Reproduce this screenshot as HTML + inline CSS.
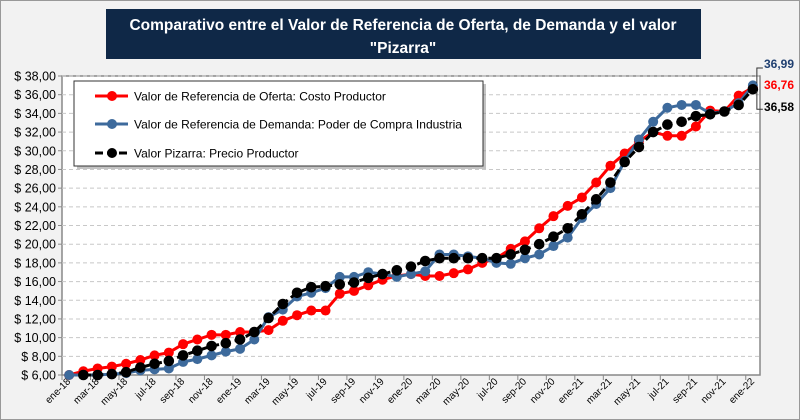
<!DOCTYPE html>
<html><head><meta charset="utf-8"><style>
body{margin:0;background:#fff;font-family:"Liberation Sans",sans-serif}
#wrap{position:relative;width:798px;height:418px;border:1px solid #999;background:#f2f2f2;overflow:hidden}
svg{position:absolute;left:0;top:0}
</style></head><body>
<div id="wrap">
<svg id="chart" width="800" height="420"></svg>
</div>
<script>
const categories=["ene-18","feb-18","mar-18","abr-18","may-18","jun-18","jul-18","ago-18","sep-18","oct-18","nov-18","dic-18","ene-19","feb-19","mar-19","abr-19","may-19","jun-19","jul-19","ago-19","sep-19","oct-19","nov-19","dic-19","ene-20","feb-20","mar-20","abr-20","may-20","jun-20","jul-20","ago-20","sep-20","oct-20","nov-20","dic-20","ene-21","feb-21","mar-21","abr-21","may-21","jun-21","jul-21","ago-21","sep-21","oct-21","nov-21","dic-21","ene-22"];
const oferta=[6.0,6.4,6.7,6.9,7.2,7.6,8.1,8.4,9.3,9.8,10.3,10.3,10.6,10.6,10.8,11.8,12.4,12.9,12.9,14.7,15.0,15.6,16.2,16.6,16.8,16.6,16.6,16.9,17.3,18.0,18.5,19.5,20.3,21.7,23.0,24.1,25.0,26.6,28.4,29.7,31.0,32.0,31.6,31.6,32.6,34.3,34.2,35.9,36.76];
const demanda=[6.0,6.0,6.0,6.1,6.2,6.5,6.6,6.7,7.4,7.7,8.1,8.5,8.8,9.8,12.2,13.0,14.4,14.8,15.3,16.5,16.5,17.0,16.8,16.5,16.8,17.1,18.9,18.9,18.7,18.5,18.0,17.9,18.5,18.9,19.8,20.7,22.8,24.3,26.0,28.9,31.2,33.1,34.6,34.9,34.9,34.0,34.2,35.1,36.99];
const pizarra=[null,6.0,6.0,6.1,6.3,6.8,7.2,7.5,8.1,8.6,9.1,9.4,9.8,10.6,12.1,13.6,14.8,15.4,15.5,15.7,15.9,16.4,16.8,17.2,17.6,18.2,18.5,18.5,18.5,18.5,18.5,18.9,19.4,20.0,20.8,21.7,23.2,24.8,26.6,28.8,30.4,32.0,32.8,33.1,33.7,33.9,34.2,34.9,36.58];
const yTicks=[6,8,10,12,14,16,18,20,22,24,26,28,30,32,34,36,38];
const endLabels=["36,99","36,76","36,58"];

const NS="http://www.w3.org/2000/svg";
const svg=document.getElementById('chart');
const PL=61,PR=759,PT=75,PB=374;
const xs=i=>PL+(i+0.5)*(PR-PL)/categories.length;
const ys=v=>PB-(v-6)/(38-6)*(PB-PT);
function mk(t,a,parent){const e=document.createElementNS(NS,t);for(const k in a)e.setAttribute(k,a[k]);(parent||svg).appendChild(e);return e;}

let e;
e=mk('rect',{x:PL,y:PT,width:PR-PL,height:PB-PT,fill:'#fff',stroke:'#888','stroke-width':1.5});


yTicks.forEach(t=>{
  const y=ys(t);
  if(t>6){e=mk('line',{x1:PL,x2:PR,y1:y,y2:y,stroke:'#c8c8c8','stroke-dasharray':'4,3'});
  
  }
  e=mk('line',{x1:PL-4,x2:PL,y1:y,y2:y,stroke:'#888'});
  e=mk('text',{x:PL-6,y:y+4.5,'text-anchor':'end','font-size':12.5,fill:'#000'});
  e.textContent='$ '+t.toFixed(2).replace('.',',');
  
  
});
categories.forEach((c,i)=>{
  const x=xs(i);
  if(i%2==0){
    mk('line',{x1:PL+i*(PR-PL)/categories.length,x2:PL+i*(PR-PL)/categories.length,y1:PB,y2:PB+5,stroke:'#888'});
    e=mk('text',{x:x+2,y:PB+7,'text-anchor':'end','font-size':10,fill:'#000',transform:`rotate(-45 ${x+2} ${PB+7})`});
    e.textContent=c;
    
    
  }
});
function series(data,color,dash,name,r){
  const g=mk('g',{});
  
  
  let d='';data.forEach((v,i)=>{if(v==null)return;d+=(d?'L':'M')+xs(i)+' '+ys(v);});
  mk('path',{d:d,fill:'none',stroke:color,'stroke-width':3,'stroke-dasharray':dash||'none'},g);
  data.forEach((v,i)=>{if(v==null)return;const p=mk('circle',{cx:xs(i),cy:ys(v),r:r,fill:color},g);
  
  });
}
series(oferta,'#ff0000',null,'series-oferta',5);
series(demanda,'#3d6a9c',null,'series-demanda',5);
series(pizarra,'#000','8,4','series-pizarra',5.3);

const lx=xs(48);
mk('path',{d:`M${lx+4} ${ys(36.99)-2} V${ys(38)-8} H${lx+10}`,fill:'none',stroke:'#333'});
mk('path',{d:`M${lx+4} ${ys(36.58)+2} V${ys(36.58)+20} H${lx+10}`,fill:'none',stroke:'#333'});
const ec=['#1f3f70','#ff0000','#000'],ey=[67,88,110];
endLabels.forEach((t,i)=>{e=mk('text',{x:763,y:ey[i],'font-size':12,'font-weight':'bold',fill:ec[i]});e.textContent=t;

});

e=mk('rect',{x:105,y:8,width:595,height:50,fill:'#0f2847'});


e=mk('text',{x:402,y:29,'text-anchor':'middle','font-size':15.5,'font-weight':'bold',fill:'#fff'});
e.textContent='Comparativo entre el Valor de Referencia de Oferta, de Demanda y el valor';


e=mk('text',{x:402,y:52,'text-anchor':'middle','font-size':15.5,'font-weight':'bold',fill:'#fff'});
e.textContent='"Pizarra"';



mk('rect',{x:76,y:83,width:409,height:85,fill:'#888',opacity:0.5});
e=mk('rect',{x:73,y:80,width:409,height:85,fill:'#fff',stroke:'#333','stroke-width':1});


const leg=[['Valor de Referencia de Oferta: Costo Productor','#ff0000',null,95],['Valor de Referencia de Demanda: Poder de Compra Industria','#3d6a9c',null,123],['Valor Pizarra: Precio Productor','#000','8,4',152]];
leg.forEach(l=>{
  const g=mk('g',{});
  
  
  mk('line',{x1:94,x2:127,y1:l[3],y2:l[3],stroke:l[1],'stroke-width':3,'stroke-dasharray':l[2]||'none'},g);
  mk('circle',{cx:111,cy:l[3],r:5,fill:l[1]},g);
  const t=mk('text',{x:133,y:l[3]+4.5,'font-size':12,fill:'#000'},g);t.textContent=l[0];
});
</script>
</body></html>
